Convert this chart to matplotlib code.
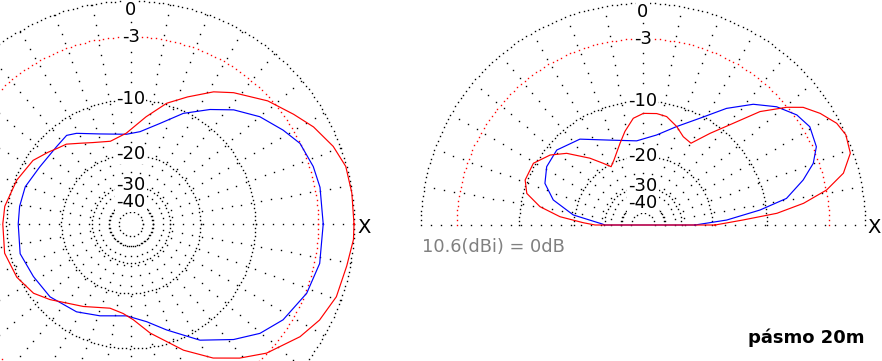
import numpy as np
import matplotlib
matplotlib.use("Agg")
import matplotlib.pyplot as plt

plt.rcParams['font.family'] = ['DejaVu Sans']
plt.rcParams['lines.scale_dashes'] = False

# ---------------- data (gain in dB relative to 10.6 dBi) ----------------
# Azimuth pattern (left plot), angle in degrees
az_deg_red = [0, 8, 15, 21, 28, 34, 42, 52, 58, 66, 73.5, 82, 93, 104, 115, 122, 129,
              134.5, 139, 147, 159, 172, 180, 193, 205, 215.4, 223, 240, 256, 265,
              271.4, 280, 292.6, 301.5, 309, 316.4, 326.3, 333, 340.5, 349, 356, 360]
az_red_db = [0.0, 0.0, -0.05, -0.5, -1.3, -2.2, -3.3, -5.0, -6.15, -8.1, -9.8, -12.4,
             -15.4, -16.5, -15.6, -14.6, -13.3, -12.8, -12.2, -11.1, -10.3, -9.6, -9.5,
             -9.3, -9.8, -10.7, -12.0, -14.6, -16.2, -15.6, -14.5, -12.0, -8.4, -6.0,
             -4.4, -3.0, -1.6, -0.9, -0.4, -0.25, 0.0, 0.0]

az_deg_blue = [0, 11, 17.5, 25.5, 31.7, 39.8, 48, 55.4, 64.7, 74, 84.4, 92.8, 109, 121,
               126, 134, 148, 160.6, 171, 180, 195, 208.3, 222, 238.2, 251.3, 267.3,
               279.1, 288.6, 300.7, 311.6, 319.7, 327.8, 338.5, 348.2, 360]
az_blue_db = [-2.55, -2.52, -2.65, -3.0, -3.8, -4.9, -6.4, -8.1, -10.3, -13.0, -15.05,
              -15.6, -14.6, -12.8, -12.2, -12.55, -12.5, -11.8, -11.7, -11.7, -11.4,
              -12.0, -12.3, -13.2, -14.3, -15.2, -13.95, -11.85, -8.6, -6.3, -4.75,
              -3.7, -2.85, -2.5, -2.55]

# Elevation pattern (right plot), elevation angle in degrees
el_deg_red = [0, 2.9, 5.0, 7.7, 10.8, 14.5, 19.1, 24, 27.7, 32.2, 36.3, 39.3, 44.1,
              48.4, 53.8, 59.6, 65.5, 71.1, 77.7, 83, 89.8, 95.2, 100.9, 105.7, 114,
              118.7, 122.8, 128.5, 136.8, 143, 150.6, 159.1, 164.8, 169.9, 174.3,
              177.8, 180]
el_red_db = [-19.3, -13.6, -8.6, -5.4, -2.95, -1.2, -0.2, 0.0, -0.25, -1.0, -1.9, -3.05,
             -5.3, -8.4, -11.5, -14.6, -14.2, -13.0, -11.9, -11.7, -11.8, -12.5, -14.5,
             -16.5, -19.5, -20.7, -19.0, -16.4, -12.9, -11.1, -9.75, -9.7, -10.5,
             -12.9, -16.8, -22.5, -26.3]

el_deg_blue = [0, 3.4, 7.3, 10.5, 15.7, 19.9, 24.3, 30.5, 35.6, 41.5, 47.6, 54.4, 61.9,
               71.1, 81.4, 94.3, 111.2, 126.3, 139, 148.8, 157, 164.4, 171.8, 178.5, 180]
el_blue_db = [-24.9, -16.7, -10.85, -7.2, -4.95, -3.5, -2.65, -2.35, -2.75, -3.75,
              -5.25, -7.5, -10.4, -13.0, -15.3, -16.6, -15.3, -12.6, -11.4, -11.65,
              -12.6, -14.9, -19.7, -29.0, -30.3]

ring_db = [0, -3, -10, -20, -30, -40, -50]
ring_labels = ["0", "-3", "-10", "-20", "-30", "-40"]
ref_text = "10.6(dBi) = 0dB"
band_text = "pásmo 20m"

DOT = 1.0  # marker size (points) for grid dots


def arrl(db):
    """ARRL log scale: each 2 dB is a factor 0.89 in radius."""
    return 0.89 ** (-np.asarray(db, dtype=float) / 2.0)


W, H = 882, 361
fig = plt.figure(figsize=(W / 100, H / 100), dpi=100)
fig.patch.set_facecolor("white")


def make_axes(cx, cy, R):
    ax = fig.add_axes([(cx - R) / W, (H - cy - R) / H, 2 * R / W, 2 * R / H],
                      projection="polar")
    ax.set_ylim(0, 1)
    ax.axis("off")
    ax.patch.set_visible(False)
    return ax


def draw_grid(ax, tmin, tmax, R):
    for db in ring_db:
        col = "red" if db == -3 else "black"
        r = float(arrl(db))
        step = 4.8 if db in (0, -3) else 4.0
        n = max(int(2 * np.pi * r * R / step * (tmax - tmin) / 360), 6)
        th = np.radians(np.linspace(tmin, tmax, n + 1))
        ax.plot(th, np.full_like(th, r), linestyle="none", marker="s",
                ms=DOT, mew=0, color=col, antialiased=False, clip_on=False, zorder=1)
    r_in = float(arrl(ring_db[-1]))
    stop = tmax + 1 if tmax - tmin < 360 else tmax
    for a in range(tmin, stop, 10):
        rs = np.arange(r_in + 10.0 / R, 1.0, 10.0 / R)
        ax.plot(np.full_like(rs, np.radians(a)), rs, linestyle="none", marker="s",
                ms=DOT, mew=0, color="black", antialiased=False, clip_on=False, zorder=1)
    for db, lab in zip(ring_db, ring_labels):
        r = float(arrl(db))
        ax.text(np.pi / 2, r, lab, ha="center", va="top" if db == 0 else "center",
                fontsize=13, color="black", zorder=3, clip_on=False,
                bbox=dict(boxstyle="square,pad=0.05", fc="white", ec="none"))


def draw_curve(ax, deg, db, color):
    t = np.radians(list(deg) + [deg[0]])
    r = arrl(list(db) + [db[0]])
    ax.plot(t, r, color=color, lw=0.85, zorder=4, clip_on=False)


# Left: azimuth
axL = make_axes(131, 224, 223)
draw_grid(axL, 0, 360, 223)
draw_curve(axL, az_deg_blue, az_blue_db, "blue")
draw_curve(axL, az_deg_red, az_red_db, "red")

# Right: elevation
axR = make_axes(643, 225, 222)
draw_grid(axR, 0, 180, 222)
draw_curve(axR, el_deg_blue, el_blue_db, "blue")
draw_curve(axR, el_deg_red, el_red_db, "red")

fig.text(364 / W, 1 - 233 / H, "X", ha="center", va="baseline", fontsize=14)
fig.text(874 / W, 1 - 233 / H, "X", ha="center", va="baseline", fontsize=14)
fig.text(422 / W, 1 - 252 / H, ref_text, ha="left", va="baseline", fontsize=12.8,
         color="#808080")
fig.text(748 / W, 1 - 343 / H, band_text, ha="left", va="baseline", fontsize=13,
         fontweight="bold", color="black")

fig.savefig("out.png", dpi=100, facecolor="white")
